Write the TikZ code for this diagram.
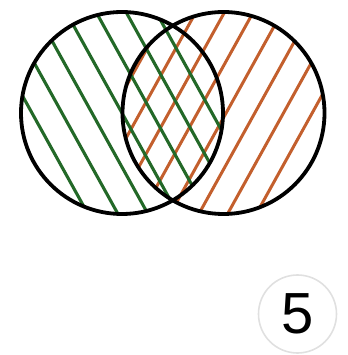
\documentclass[tikz,border=0pt]{standalone}
\usepackage{fontspec}
\setmainfont{Liberation Sans}
\definecolor{hgreen}{RGB}{35,105,40}
\definecolor{horange}{RGB}{195,95,45}
\tikzset{
  greenhatch/.style={draw=hgreen,line width=3.1pt},
  orangehatch/.style={draw=horange,line width=3.0pt},
  setcircle/.style={draw=black,line width=3.8pt},
  badge/.style={circle,draw=black!12,line width=1.6pt,minimum size=78pt,inner sep=0pt}
}
\begin{document}
\begin{tikzpicture}[x=1pt,y=1pt]
\useasboundingbox (0,0) rectangle (347,355);
\coordinate (cL) at (122,242);
\coordinate (cR) at (223.5,242);
% orange hatching in right set
\begin{scope}
  \clip (cR) circle (101);
  \foreach \k in {-3,...,9}{
    \pgfmathsetmacro{\xx}{140+28.7*\k}
    \draw[orangehatch] (\xx,242) ++(-119:130) -- ++(61:260);
  }
\end{scope}
% green hatching in left set
\begin{scope}
  \clip (cL) circle (101);
  \foreach \k in {-3,...,9}{
    \pgfmathsetmacro{\xx}{32+30*\k}
    \draw[greenhatch] (\xx,242) ++(119:130) -- ++(-61:260);
  }
\end{scope}
\draw[setcircle] (cL) circle (101);
\draw[setcircle] (cR) circle (101);
\node[badge] (num) at (297.5,41) {\fontsize{58}{58}\selectfont 5};
\end{tikzpicture}
\end{document}
